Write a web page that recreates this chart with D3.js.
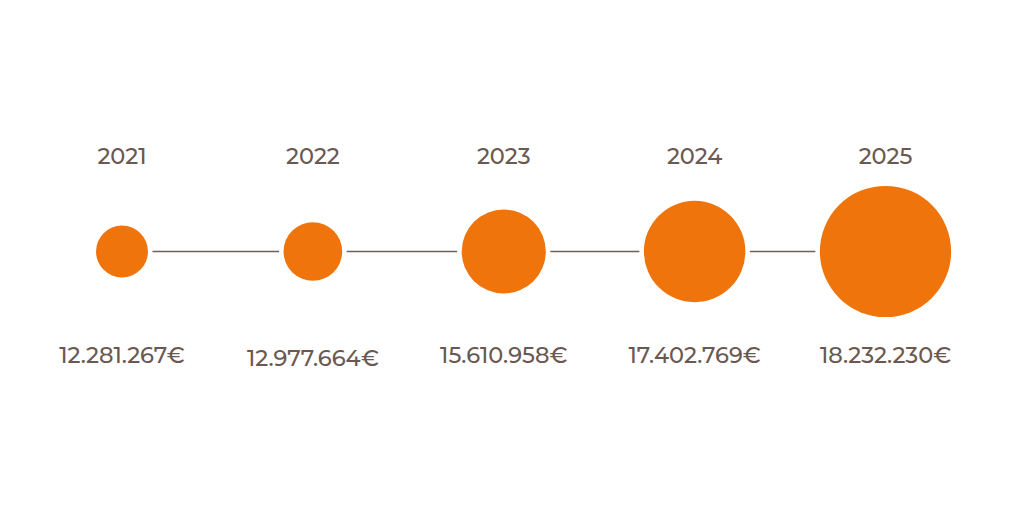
<!DOCTYPE html>
<html>
<head>
<meta charset="utf-8">
<title>Annual amounts 2021-2025</title>
<script src="https://d3js.org/d3.v7.min.js"></script>
<style>
  body { margin: 0; background: #fff; }
  text { font-family: "Montserrat", "Noto Sans", sans-serif; fill: #6b5851; font-weight: 500; }
</style>
</head>
<body>
<svg width="1010" height="505"></svg>
<script>
var years = ["2021", "2022", "2023", "2024", "2025"];
var amounts = [12281267, 12977664, 15610958, 17402769, 18232230];

var svg = d3.select("svg"),
    width = +svg.attr("width"),
    height = +svg.attr("height");

var cy = 251.5;

var x = d3.scalePoint()
    .domain(years)
    .range([122, 885.5]);

// bubble size is not a plain area scale in the original, so use a polylinear one
var r = d3.scaleLinear()
    .domain([12e6, 17.5e6, 18.5e6])
    .range([24.6, 51.2, 70.9]);

var fmt = function(v) {
  return d3.format(",")(v).replace(/,/g, ".") + "€";
};

var gap = 4.5;

// connectors between bubbles
svg.append("g")
  .selectAll("line")
  .data(d3.pairs(d3.range(years.length)))
  .enter().append("line")
    .attr("x1", function(p) { return x(years[p[0]]) + r(amounts[p[0]]) + gap; })
    .attr("x2", function(p) { return x(years[p[1]]) - r(amounts[p[1]]) - gap; })
    .attr("y1", cy)
    .attr("y2", cy)
    .attr("stroke", "#6e5f5a")
    .attr("stroke-width", 1.3);

svg.append("g")
  .selectAll("circle")
  .data(years)
  .enter().append("circle")
    .attr("cx", function(d) { return x(d); })
    .attr("cy", cy)
    .attr("r", function(d, i) { return r(amounts[i]); })
    .attr("fill", "#ee740b");

svg.append("g")
  .selectAll("text")
  .data(years)
  .enter().append("text")
    .attr("x", function(d) { return x(d); })
    .attr("y", 163.5)
    .attr("text-anchor", "middle")
    .attr("font-size", 22.5)
    .text(function(d) { return d; });

svg.append("g")
  .selectAll("text")
  .data(years)
  .enter().append("text")
    .attr("x", function(d) { return x(d); })
    .attr("y", function(d, i) { return i == 1 ? 365.5 : 363.3; })
    .attr("text-anchor", "middle")
    .attr("font-size", 22.5)
    .text(function(d, i) { return fmt(amounts[i]); });
</script>
</body>
</html>
